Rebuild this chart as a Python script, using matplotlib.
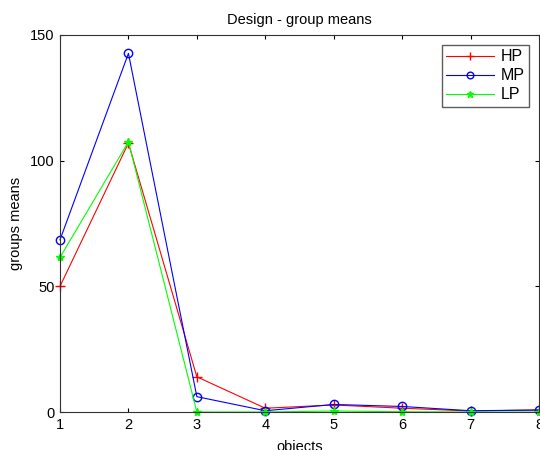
import numpy as np
import matplotlib
matplotlib.use('Agg')
import matplotlib.pyplot as plt

plt.rcParams['font.family'] = ['Liberation Sans', 'DejaVu Sans']

objects = [1, 2, 3, 4, 5, 6, 7, 8]
hp = [50, 107, 14, 1.5, 2.8, 1.5, 0.4, 0.8]
mp = [68.5, 142.7, 6.1, 0.5, 3.0, 2.2, 0.5, 0.8]
lp = [61.5, 107.5, 0, 0, 0.4, 0.1, 0, 0]

fig = plt.figure(figsize=(5.4, 4.5), dpi=100)
ax = fig.add_axes([60/540, 38/450, 479/540, 377/450])

ax.plot(objects, hp, color='red', marker='+', markersize=7, lw=0.8, label='HP', clip_on=False)
ax.plot(objects, mp, color='blue', marker='o', markersize=6, mfc='none', lw=0.8, label='MP', clip_on=False)
ax.plot(objects, lp, color='lime', marker='*', markersize=6, lw=0.8, label='LP', clip_on=False)

ax.set_xlim(1, 8)
ax.set_ylim(0, 150)
ax.set_xticks(objects)
ax.set_yticks([0, 50, 100, 150])
ax.tick_params(direction='in', length=3, top=True, right=True, labelsize=10.5, pad=4)
for s in ax.spines.values():
    s.set_color('#333333')

ax.set_title('Design - group means', fontsize=10.5, pad=8)
ax.set_xlabel('objects', fontsize=10.5, labelpad=6)
ax.set_ylabel('groups means', fontsize=10.5, labelpad=5)

leg = ax.legend(loc='upper right', fontsize=11.5, fancybox=False, edgecolor='#333333',
                handlelength=3.0, borderaxespad=0.6, labelspacing=0.25, borderpad=0.3,
                handletextpad=0.4, markerscale=0.8)
leg.get_frame().set_linewidth(1)

fig.savefig('out.png', dpi=100)
